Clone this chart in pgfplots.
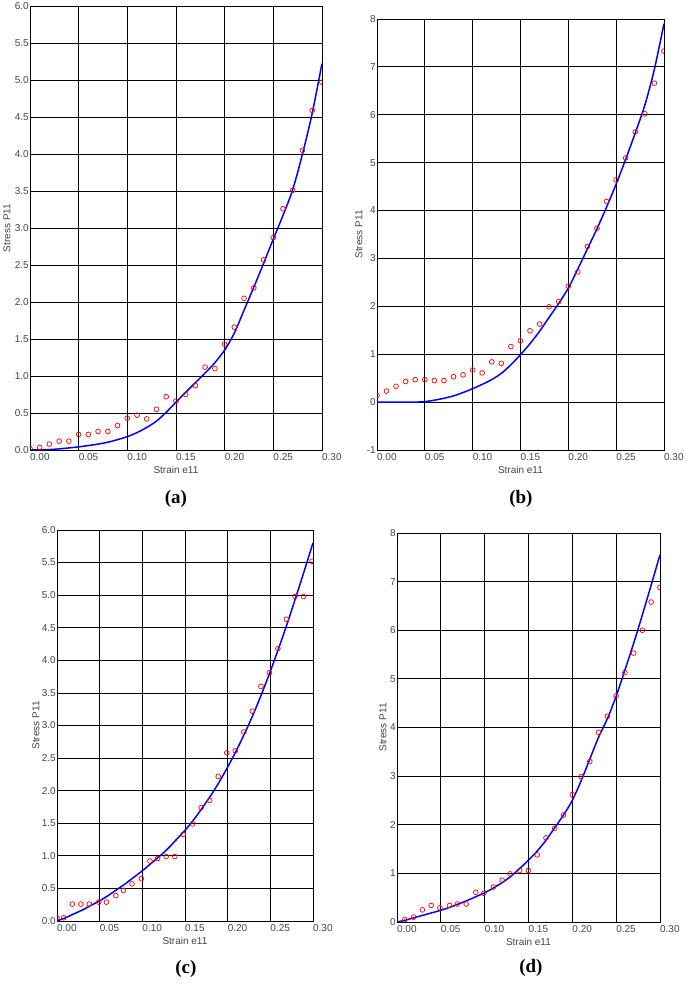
\documentclass[border=0pt]{standalone}
\usepackage{fontspec}
\setmainfont{Liberation Sans}
\newfontfamily\capfont{Liberation Serif}
\usepackage{pgfplots}
\pgfplotsset{compat=1.18}
\usepackage{pgfplotstable}

\definecolor{tickgray}{HTML}{444444}

% measured points (red circles)
\pgfplotstableread{
x y
0 0.02
0.01 0.035
0.02 0.08
0.03 0.12
0.04 0.12
0.05 0.21
0.06 0.21
0.07 0.25
0.08 0.25
0.09 0.33
0.10 0.43
0.11 0.47
0.12 0.42
0.13 0.55
0.14 0.72
0.15 0.66
0.16 0.75
0.17 0.87
0.18 1.12
0.19 1.10
0.20 1.43
0.21 1.66
0.22 2.05
0.23 2.19
0.24 2.57
0.25 2.87
0.26 3.26
0.27 3.51
0.28 4.05
0.29 4.59
0.30 4.97
}\ptsA
\pgfplotstableread{
x y
0 0
0.01 0.002
0.02 0.006
0.03 0.015
0.04 0.028
0.05 0.042
0.06 0.06
0.07 0.08
0.08 0.105
0.09 0.14
0.10 0.18
0.11 0.235
0.12 0.305
0.13 0.39
0.14 0.51
0.15 0.645
0.16 0.78
0.17 0.91
0.18 1.04
0.19 1.18
0.20 1.35
0.21 1.58
0.22 1.89
0.23 2.20
0.24 2.52
0.25 2.85
0.26 3.17
0.27 3.52
0.28 4.00
0.29 4.55
0.30 5.22
}\fitA

\pgfplotstableread{
x y
0 0.14
0.01 0.23
0.02 0.33
0.03 0.43
0.04 0.47
0.05 0.47
0.06 0.45
0.07 0.45
0.08 0.53
0.09 0.57
0.10 0.67
0.11 0.61
0.12 0.84
0.13 0.81
0.14 1.16
0.15 1.28
0.16 1.49
0.17 1.63
0.18 1.99
0.19 2.10
0.20 2.42
0.21 2.72
0.22 3.25
0.23 3.63
0.24 4.19
0.25 4.64
0.26 5.10
0.27 5.64
0.28 6.02
0.29 6.66
0.30 7.33
}\ptsB
\pgfplotstableread{
x y
0 0
0.01 0
0.02 0
0.03 0
0.04 0
0.05 0.01
0.06 0.04
0.07 0.08
0.08 0.13
0.09 0.20
0.10 0.28
0.11 0.37
0.12 0.47
0.13 0.60
0.14 0.78
0.15 0.99
0.16 1.22
0.17 1.48
0.18 1.77
0.19 2.06
0.20 2.38
0.21 2.78
0.22 3.20
0.23 3.62
0.24 4.07
0.25 4.55
0.26 5.07
0.27 5.62
0.28 6.20
0.29 6.95
0.30 7.90
}\fitB

\pgfplotstableread{
x y
0 0.05
0.008 0.05
0.018 0.26
0.028 0.26
0.038 0.26
0.049 0.29
0.058 0.29
0.069 0.39
0.078 0.47
0.088 0.57
0.099 0.65
0.109 0.92
0.118 0.96
0.128 0.99
0.138 0.99
0.148 1.33
0.159 1.49
0.169 1.74
0.179 1.85
0.189 2.22
0.199 2.58
0.209 2.61
0.219 2.90
0.229 3.22
0.239 3.60
0.249 3.81
0.259 4.18
0.269 4.63
0.279 4.98
0.289 4.98
0.299 5.52
}\ptsC
\pgfplotstableread{
x y
0 0
0.01 0.05
0.02 0.11
0.03 0.17
0.04 0.24
0.05 0.31
0.06 0.39
0.07 0.48
0.08 0.57
0.09 0.67
0.10 0.77
0.11 0.88
0.12 0.99
0.13 1.11
0.14 1.25
0.15 1.39
0.16 1.55
0.17 1.73
0.18 1.92
0.19 2.13
0.20 2.36
0.21 2.61
0.22 2.88
0.23 3.17
0.24 3.49
0.25 3.83
0.26 4.19
0.27 4.57
0.28 4.97
0.29 5.38
0.30 5.80
}\fitC

\pgfplotstableread{
x y
0.009 0.05
0.019 0.10
0.029 0.25
0.039 0.34
0.049 0.29
0.060 0.34
0.069 0.37
0.079 0.37
0.090 0.61
0.099 0.59
0.110 0.72
0.120 0.86
0.129 0.99
0.140 1.06
0.150 1.06
0.160 1.38
0.170 1.73
0.180 1.93
0.190 2.20
0.200 2.62
0.210 2.99
0.220 3.30
0.230 3.90
0.240 4.23
0.250 4.65
0.260 5.13
0.270 5.53
0.280 6.00
0.290 6.58
0.300 6.88
}\ptsD
\pgfplotstableread{
x y
0 0
0.01 0.04
0.02 0.09
0.03 0.14
0.04 0.19
0.05 0.24
0.06 0.30
0.07 0.37
0.08 0.44
0.09 0.52
0.10 0.60
0.11 0.70
0.12 0.81
0.13 0.94
0.14 1.10
0.15 1.27
0.16 1.46
0.17 1.68
0.18 1.94
0.19 2.20
0.20 2.50
0.21 2.90
0.22 3.35
0.23 3.80
0.24 4.18
0.25 4.64
0.26 5.18
0.27 5.73
0.28 6.32
0.29 6.93
0.30 7.55
}\fitD

\pgfplotsset{
  panel/.style={
    scale only axis, anchor=north west,
    xmin=0, xmax=0.3,
    xtick={0,0.05,0.1,0.15,0.2,0.25,0.3},
    scaled x ticks=false, scaled y ticks=false,
    grid=major,
    major grid style={black, line width=0.8pt},
    axis line style={black, line width=0.8pt},
    major tick length=0pt,
    ticklabel style={font=\fontsize{10}{12}\selectfont, text=tickgray,
      /pgf/number format/assume math mode=true},
    xticklabel style={anchor=north west, inner sep=0pt, yshift=-3pt,
      /pgf/number format/.cd, fixed, fixed zerofill, precision=2},
    yticklabel style={anchor=east, inner sep=1pt},
    label style={font=\fontsize{10}{12}\selectfont, text=tickgray},
    xlabel={Strain e11}, ylabel={Stress P11},
    xlabel style={at={(axis description cs:0.5,0)}, anchor=center, yshift=-20pt},
    clip marker paths=true,
  },
  halfstep/.style={yticklabel style={/pgf/number format/.cd, fixed, fixed zerofill, precision=1}},
  fitline/.style={blue, line width=1.5pt, smooth, no marks},
  pts/.style={only marks, mark=o, red, mark size=2.4pt, line width=0.7pt},
}

\begin{document}
\begin{tikzpicture}
\path (0,0) rectangle (685pt,-984pt);

\begin{axis}[panel, halfstep, at={(29pt,-6pt)}, width=292pt, height=444pt,
  ymin=0, ymax=6, ytick={0,0.5,...,6},
  ylabel style={at={(axis description cs:-0.079,0.5)}, anchor=center}]
  \addplot[fitline] table {\fitA};
  \addplot[pts] table {\ptsA};
\end{axis}

\begin{axis}[panel, at={(376pt,-19pt)}, width=287pt, height=431pt,
  ymin=-1, ymax=8, ytick={-1,0,...,8},
  ylabel style={at={(axis description cs:-0.063,0.5)}, anchor=center}]
  \addplot[fitline] table {\fitB};
  \addplot[pts] table {\ptsB};
\end{axis}

\begin{axis}[panel, halfstep, at={(56pt,-530pt)}, width=256pt, height=391pt,
  ymin=0, ymax=6, ytick={0,0.5,...,6},
  ylabel style={at={(axis description cs:-0.082,0.5)}, anchor=center}]
  \addplot[fitline] table {\fitC};
  \addplot[pts] table {\ptsC};
\end{axis}

\begin{axis}[panel, at={(396pt,-533pt)}, width=263pt, height=389pt,
  ymin=0, ymax=8, ytick={0,1,...,8},
  ylabel style={at={(axis description cs:-0.053,0.5)}, anchor=center}]
  \addplot[fitline] table {\fitD};
  \addplot[pts] table {\ptsD};
\end{axis}

\node[font=\capfont\bfseries\fontsize{19}{22}\selectfont] at (175pt,-499pt) {(a)};
\node[font=\capfont\bfseries\fontsize{19}{22}\selectfont] at (520pt,-499pt) {(b)};
\node[font=\capfont\bfseries\fontsize{19}{22}\selectfont] at (185pt,-969pt) {(c)};
\node[font=\capfont\bfseries\fontsize{19}{22}\selectfont] at (530pt,-968pt) {(d)};
\end{tikzpicture}
\end{document}
